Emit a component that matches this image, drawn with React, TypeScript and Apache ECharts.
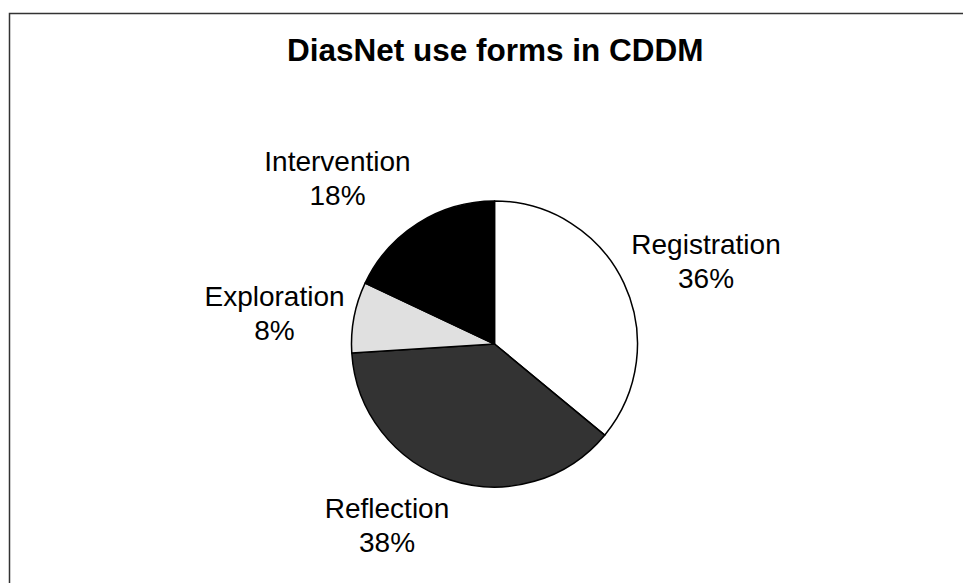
import React, { useEffect, useRef } from "react";
import * as echarts from "echarts";

const categories = ["Registration", "Reflection", "Exploration", "Intervention"];
const values = [36, 38, 8, 18];
const sliceColors = ["#ffffff", "#333333", "#e0e0e0", "#000000"];
const labelPos: [number, number][] = [
  [706, 261],
  [387, 525],
  [274.5, 313],
  [337.5, 178],
];

export default function App() {
  const ref = useRef<HTMLDivElement>(null);
  useEffect(() => {
    if (!ref.current) return;
    const chart = echarts.init(ref.current, undefined, { renderer: "svg" });
    chart.setOption({
      animation: false,
      backgroundColor: "#ffffff",
      title: {
        text: "DiasNet use forms in CDDM",
        left: 287,
        top: 34,
        padding: 0,
        textStyle: {
          fontFamily: "Liberation Sans, Arial, sans-serif",
          fontSize: 31.5,
          fontWeight: "bold",
          color: "#000000",
        },
      },
      graphic: [
        {
          type: "rect",
          shape: { x: 9.5, y: 13.5, width: 1200, height: 1200 },
          style: { fill: "none", stroke: "#333333", lineWidth: 1.5 },
          silent: true,
        },
      ],
      series: [
        {
          type: "pie",
          center: [494.5, 344],
          radius: [0, 143],
          startAngle: 90,
          clockwise: true,
          silent: true,
          data: categories.map((c, i) => ({
            name: c,
            value: values[i],
            itemStyle: { color: sliceColors[i] },
          })),
          itemStyle: { borderColor: "#000000", borderWidth: 1.5 },
          label: {
            show: true,
            formatter: (p: any) => `${p.name}\n${p.value}%`,
            fontFamily: "Liberation Sans, Arial, sans-serif",
            fontSize: 28,
            lineHeight: 34,
            color: "#000000",
            align: "center",
            verticalAlign: "middle",
          },
          labelLine: { show: false },
          labelLayout: (params: any) => {
            const p = labelPos[params.dataIndex];
            return { x: p[0], y: p[1], align: "center", verticalAlign: "middle" };
          },
        },
      ],
    });
    return () => chart.dispose();
  }, []);
  return (
    <div
      ref={ref}
      style={{ position: "absolute", left: 0, top: 0, width: 963, height: 583 }}
    />
  );
}
